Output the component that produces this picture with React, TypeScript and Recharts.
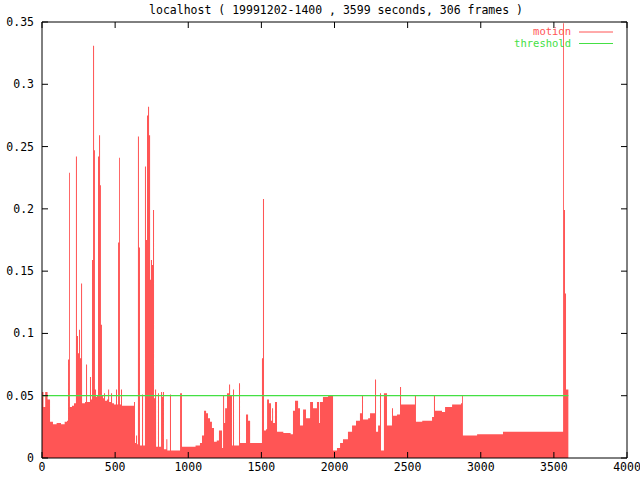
import React from "react";
import {
  ComposedChart,
  Area,
  Line,
  XAxis,
  YAxis,
  ReferenceArea,
} from "recharts";

const titleText = "localhost ( 19991202-1400 , 3599 seconds, 306 frames )";
const seriesNames = ["motion", "threshold"];
const thresholdValue = 0.05;
const xTicks = [0, 500, 1000, 1500, 2000, 2500, 3000, 3500, 4000];
const yTicks = [0, 0.05, 0.1, 0.15, 0.2, 0.25, 0.3, 0.35];

const seconds = [
  0, 10, 22, 38, 55, 75, 100, 130, 155, 171, 178, 185, 191, 205, 219, 232, 239, 246, 253, 260,
  267, 274, 294, 301, 308, 328, 335, 342, 349, 356, 362, 369, 376, 383, 390, 397, 403, 410, 417, 424,
  431, 445, 452, 459, 472, 479, 492, 506, 513, 520, 527, 533, 540, 547, 600, 629, 636, 643, 650, 656,
  663, 670, 684, 691, 704, 711, 718, 725, 732, 739, 745, 752, 759, 766, 773, 780, 793, 800, 814, 821,
  827, 834, 850, 857, 875, 882, 920, 944, 957, 1000, 1050, 1080, 1094, 1108, 1122, 1135, 1149, 1162, 1176, 1195,
  1210, 1231, 1238, 1245, 1252, 1265, 1279, 1286, 1299, 1306, 1313, 1347, 1354, 1395, 1409, 1423, 1504, 1511, 1518, 1532,
  1539, 1552, 1566, 1573, 1580, 1593, 1607, 1650, 1700, 1716, 1730, 1751, 1764, 1785, 1805, 1833, 1853, 1880, 1894, 1900,
  1921, 1956, 1990, 2017, 2038, 2058, 2092, 2120, 2147, 2174, 2188, 2195, 2230, 2243, 2277, 2284, 2298, 2311, 2318, 2338,
  2359, 2393, 2400, 2427, 2448, 2455, 2537, 2550, 2557, 2600, 2667, 2680, 2687, 2735, 2756, 2804, 2865, 2872, 2878, 2926,
  2975, 3152, 3563, 3569, 3576, 3583, 3599,
];

const motion = [
  0.053, 0.041, 0.053, 0.047, 0.029, 0.027, 0.028, 0.027, 0.029, 0.030, 0.079, 0.229, 0.041, 0.042, 0.044, 0.242, 0.098, 0.084, 0.103, 0.080,
  0.140, 0.044, 0.045, 0.075, 0.045, 0.065, 0.047, 0.159, 0.331, 0.247, 0.055, 0.049, 0.050, 0.242, 0.259, 0.219, 0.107, 0.050, 0.048, 0.052,
  0.046, 0.047, 0.055, 0.045, 0.052, 0.044, 0.043, 0.055, 0.043, 0.173, 0.241, 0.043, 0.055, 0.042, 0.042, 0.045, 0.012, 0.018, 0.011, 0.258,
  0.169, 0.010, 0.051, 0.010, 0.234, 0.175, 0.275, 0.282, 0.259, 0.143, 0.159, 0.155, 0.199, 0.048, 0.055, 0.009, 0.052, 0.009, 0.053, 0.049,
  0.053, 0.007, 0.015, 0.006, 0.051, 0.006, 0.006, 0.052, 0.009, 0.009, 0.010, 0.012, 0.018, 0.038, 0.036, 0.032, 0.029, 0.024, 0.013, 0.014,
  0.022, 0.008, 0.050, 0.028, 0.040, 0.052, 0.059, 0.050, 0.010, 0.055, 0.010, 0.060, 0.012, 0.035, 0.030, 0.012, 0.080, 0.208, 0.022, 0.023,
  0.047, 0.044, 0.030, 0.040, 0.028, 0.045, 0.021, 0.020, 0.019, 0.038, 0.046, 0.040, 0.026, 0.039, 0.032, 0.045, 0.040, 0.045, 0.028, 0.045,
  0.049, 0.050, 0.006, 0.008, 0.012, 0.015, 0.021, 0.026, 0.030, 0.036, 0.050, 0.031, 0.032, 0.036, 0.063, 0.021, 0.026, 0.052, 0.006, 0.052,
  0.026, 0.040, 0.034, 0.035, 0.057, 0.043, 0.043, 0.050, 0.029, 0.030, 0.033, 0.050, 0.038, 0.037, 0.041, 0.043, 0.044, 0.050, 0.018, 0.018,
  0.019, 0.021, 0.349, 0.199, 0.132, 0.055, 0.055,
];

const data = seconds.map((t, i) => ({ t, motion: motion[i], threshold: thresholdValue }));

const RED = "#ff5555";
const GREEN = "#44e044";
const FONT = "'DejaVu Sans Mono', 'Liberation Mono', monospace";
const FS = 11.5;

const LeftTick = (props: any) => {
  const { x, y, payload } = props;
  return (
    <g>
      <line x1={x} y1={y} x2={x + 6} y2={y} stroke="#000" strokeWidth={1} />
      <text x={x - 8} y={y + 4} textAnchor="end" fontFamily={FONT} fontSize={FS} fill="#000">
        {String(payload.value)}
      </text>
    </g>
  );
};

const RightTick = (props: any) => {
  const { x, y } = props;
  return <line x1={x - 6} y1={y} x2={x} y2={y} stroke="#000" strokeWidth={1} />;
};

const BottomTick = (props: any) => {
  const { x, y, payload } = props;
  return (
    <g>
      <line x1={x} y1={y} x2={x} y2={y - 6} stroke="#000" strokeWidth={1} />
      <text x={x} y={y + 13} textAnchor="middle" fontFamily={FONT} fontSize={FS} fill="#000">
        {String(payload.value)}
      </text>
    </g>
  );
};

const TopTick = (props: any) => {
  const { x, y } = props;
  return <line x1={x} y1={y} x2={x} y2={y + 6} stroke="#000" strokeWidth={1} />;
};

export default function App() {
  return (
    <div style={{ position: "absolute", left: 0, top: 0, width: 640, height: 480, background: "#fff" }}>
      <div
        style={{
          position: "absolute",
          left: 0,
          top: 3,
          width: 672,
          textAlign: "center",
          fontFamily: FONT,
          fontSize: FS,
          lineHeight: "14px",
          color: "#000",
          whiteSpace: "pre",
          zIndex: 2,
        }}
      >
        {titleText}
      </div>
      <ComposedChart
        width={640}
        height={480}
        data={data}
        margin={{ top: 0, right: 0, bottom: 0, left: 0 }}
      >
        <XAxis
          xAxisId="bottom"
          dataKey="t"
          type="number"
          domain={[0, 4000]}
          ticks={xTicks}
          height={22}
          orientation="bottom"
          axisLine={false}
          tickLine={false}
          tickSize={0}
          tickMargin={0}
          tick={<BottomTick />}
          interval={0}
          allowDataOverflow
        />
        <XAxis
          xAxisId="top"
          dataKey="t"
          type="number"
          domain={[0, 4000]}
          ticks={xTicks}
          height={22}
          orientation="top"
          axisLine={false}
          tickLine={false}
          tickSize={0}
          tickMargin={0}
          tick={<TopTick />}
          interval={0}
          allowDataOverflow
        />
        <YAxis
          yAxisId="left"
          type="number"
          domain={[0, 0.35]}
          ticks={yTicks}
          width={42}
          orientation="left"
          axisLine={false}
          tickLine={false}
          tickSize={0}
          tickMargin={0}
          tick={<LeftTick />}
          interval={0}
          allowDataOverflow
        />
        <YAxis
          yAxisId="right"
          type="number"
          domain={[0, 0.35]}
          ticks={yTicks}
          width={13}
          orientation="right"
          axisLine={false}
          tickLine={false}
          tickSize={0}
          tickMargin={0}
          tick={<RightTick />}
          interval={0}
          allowDataOverflow
        />
        <Area
          xAxisId="bottom"
          yAxisId="left"
          dataKey="motion"
          type="stepAfter"
          fill={RED}
          fillOpacity={1}
          stroke="none"
          isAnimationActive={false}
          dot={false}
          activeDot={false}
        />
        <Line
          xAxisId="top"
          yAxisId="right"
          dataKey="threshold"
          type="linear"
          stroke={GREEN}
          strokeWidth={1.2}
          dot={false}
          activeDot={false}
          isAnimationActive={false}
        />
        <ReferenceArea
          xAxisId="bottom"
          yAxisId="left"
          x1={0}
          x2={4000}
          y1={0}
          y2={0.35}
          fill="none"
          stroke="#000"
          strokeWidth={1}
          ifOverflow="visible"
        />
      </ComposedChart>
      <svg
        width={120}
        height={32}
        style={{ position: "absolute", left: 500, top: 24, display: "block", zIndex: 2 }}
      >
        <text x={71} y={11} textAnchor="end" fontFamily={FONT} fontSize={10.5} fill={RED}>
          {seriesNames[0]}
        </text>
        <line x1={79} y1={8} x2={113} y2={8} stroke={RED} strokeWidth={1} />
        <text x={71} y={23} textAnchor="end" fontFamily={FONT} fontSize={10.5} fill={GREEN}>
          {seriesNames[1]}
        </text>
        <line x1={79} y1={19.5} x2={113} y2={19.5} stroke={GREEN} strokeWidth={1} />
      </svg>
    </div>
  );
}
